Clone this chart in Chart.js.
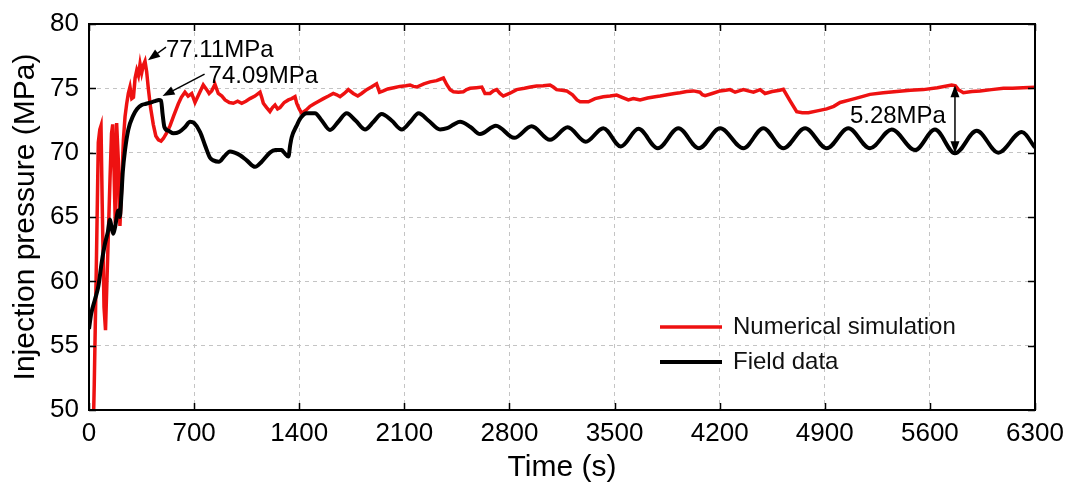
<!DOCTYPE html>
<html>
<head>
<meta charset="utf-8">
<script src="https://cdn.jsdelivr.net/npm/chart.js@4/dist/chart.umd.min.js"></script>
<style>
html,body{margin:0;padding:0;background:#fff;}
#wrap{width:1069px;height:484px;position:relative;}
</style>
</head>
<body>
<div id="wrap"><canvas id="c" width="1069" height="484"></canvas></div>
<script>
// ---- data ----
const xTicks = [0, 700, 1400, 2100, 2800, 3500, 4200, 4900, 5600, 6300];
const yTicks = [50, 55, 60, 65, 70, 75, 80];
const seriesNames = ['Numerical simulation', 'Field data'];

// Numerical simulation: [time (s), pressure (MPa)]
const simulation = [
[20,44],[35,52],[50,62],[62,70.8],[72,71.8],[80,72.1],[88,66],[100,58],[110,56.2],[122,61],[140,68],[150,71.5],[158,72.2],[167,68.5],[175,64.5],[184,72.3],[195,69.5],[206,64.3],[218,67.5],[229,71],[240,72.8],[251,73.8],[262,74.6],[273,75.1],[285,74.2],[296,74.3],[307,75.8],[318,76.4],[329,76.0],[340,76.9],[351,76.2],[362,76.8],[373,77.11],[384,76.3],[395,75.0],[410,73.5],[428,72.2],[445,71.3],[462,71.0],[480,70.9],[495,71.1],[520,71.6],[540,72.1],[565,72.9],[595,73.8],[615,74.3],[639,74.7],[660,74.4],[684,74.6],[706,73.9],[730,74.5],[761,75.26],[784,74.9],[800,74.6],[817,74.8],[839,75.3],[861,74.6],[885,74.4],[906,74.1],[935,73.9],[961,73.84],[990,74.0],[1017,73.84],[1045,74.0],[1072,74.2],[1105,74.4],[1139,74.7],[1150,74.3],[1161,73.84],[1183,73.5],[1205,73.2],[1222,73.5],[1239,73.7],[1256,73.4],[1272,73.5],[1300,73.9],[1328,74.1],[1350,74.2],[1372,74.35],[1383,73.84],[1400,73.4],[1416,73.06],[1445,73.3],[1472,73.6],[1500,73.8],[1530,74.0],[1561,74.2],[1595,74.4],[1627,74.6],[1650,74.5],[1672,74.35],[1700,74.6],[1727,74.9],[1760,74.6],[1790,74.4],[1815,74.6],[1849,74.9],[1880,75.1],[1915,75.35],[1935,74.7],[1960,74.8],[1990,74.95],[2030,75.05],[2070,75.15],[2110,75.2],[2138,75.26],[2160,75.15],[2183,75.1],[2230,75.35],[2271,75.5],[2315,75.6],[2360,75.8],[2382,75.3],[2405,74.9],[2427,74.74],[2460,74.7],[2493,74.74],[2515,74.9],[2538,75.0],[2580,75.05],[2616,75.1],[2637,74.6],[2671,74.6],[2693,74.8],[2715,74.9],[2737,74.6],[2759,74.4],[2800,74.6],[2848,74.9],[2900,75.0],[2940,75.1],[2981,75.18],[3025,75.2],[3070,75.26],[3092,75.1],[3114,74.9],[3150,74.85],[3181,74.8],[3220,74.5],[3250,74.1],[3270,73.96],[3326,73.96],[3370,74.2],[3425,74.35],[3470,74.4],[3514,74.48],[3550,74.3],[3592,74.1],[3625,74.2],[3648,74.15],[3670,74.1],[3720,74.25],[3770,74.35],[3803,74.4],[3850,74.5],[3900,74.6],[3936,74.66],[3980,74.75],[4025,74.8],[4069,74.7],[4085,74.5],[4103,74.43],[4150,74.6],[4203,74.8],[4240,74.85],[4269,74.9],[4303,74.7],[4330,74.8],[4358,74.9],[4390,74.8],[4425,74.7],[4469,74.9],[4502,74.6],[4550,74.75],[4600,74.85],[4624,74.92],[4670,74.0],[4713,73.18],[4750,73.1],[4791,73.1],[4850,73.25],[4913,73.4],[4960,73.6],[5002,73.9],[5068,74.1],[5130,74.3],[5201,74.53],[5290,74.65],[5379,74.75],[5470,74.85],[5557,74.9],[5650,75.05],[5745,75.26],[5770,75.2],[5790,74.9],[5823,74.66],[5880,74.75],[5934,74.8],[6010,74.9],[6090,75.0],[6150,75.0],[6220,75.05],[6300,75.08]
];

// Field data: [time (s), pressure (MPa)]
const field = [
[0,56.3],[15,57.5],[40,58.6],[62,59.6],[85,61.5],[107,62.96],[125,63.8],[140,64.8],[150,64.2],[162,63.7],[175,64.3],[195,65.5],[205,65.0],[215,66.5],[225,68.5],[240,70.2],[262,71.8],[295,72.9],[320,73.4],[351,73.7],[380,73.8],[410,73.9],[440,74.0],[465,74.09],[480,74.05],[490,73.0],[502,72.0],[530,71.7],[562,71.5],[600,71.6],[640,72.0],[673,72.4],[700,72.3],[740,71.6],[775,70.5],[806,69.6],[828,69.4],[865,69.3],[900,69.7],[939,70.1],[970,70.0],[1006,69.8],[1050,69.4],[1106,68.9],[1150,69.3],[1205,70.0],[1240,70.2],[1283,70.2],[1300,70.0],[1328,69.7],[1340,70.6],[1350,71.2],[1383,72.1],[1410,72.7],[1450,73.06],[1505,73.06],[1550,72.5],[1605,71.76],[1660,72.4],[1716,73.06],[1775,72.5],[1838,71.8],[1895,72.4],[1949,73.0],[2015,72.5],[2083,71.8],[2140,72.4],[2195,73.06],[2260,72.5],[2338,71.8],[2385,71.9],[2430,72.2],[2471,72.4],[2540,72.0],[2604,71.45],[2710,72.1],[2832,71.15],[2948,72.05],[3070,71.0],[3188,71.97],[3308,70.85],[3425,71.9],[3542,70.48],[3659,71.85],[3788,70.34],[3925,71.9],[4062,70.34],[4203,71.9],[4358,70.34],[4491,71.9],[4624,70.34],[4769,71.9],[4913,70.34],[5057,71.9],[5201,70.34],[5346,71.8],[5501,70.2],[5634,71.8],[5767,69.95],[5912,71.7],[6056,70.0],[6212,71.6],[6300,70.4]
];

// annotation values
const simPeak = [373, 77.11];
const fieldPeak = [470, 74.09];
const gapTime = 5767;
const gapTop = 75.23;
const gapBottom = 69.95;

// ---- plugins ----
const FONT = '"Liberation Sans", Arial, sans-serif';

function arrowHead(ctx, x1, y1, x2, y2, len, wid) {
  const ang = Math.atan2(y2 - y1, x2 - x1);
  ctx.beginPath();
  ctx.moveTo(x2, y2);
  ctx.lineTo(x2 - len * Math.cos(ang) + wid * Math.sin(ang), y2 - len * Math.sin(ang) - wid * Math.cos(ang));
  ctx.lineTo(x2 - len * Math.cos(ang) - wid * Math.sin(ang), y2 - len * Math.sin(ang) + wid * Math.cos(ang));
  ctx.closePath();
  ctx.fill();
}
function arrow(ctx, x1, y1, x2, y2) {
  const ang = Math.atan2(y2 - y1, x2 - x1);
  ctx.beginPath();
  ctx.moveTo(x1, y1);
  ctx.lineTo(x2 - 8 * Math.cos(ang), y2 - 8 * Math.sin(ang));
  ctx.stroke();
  arrowHead(ctx, x1, y1, x2, y2, 12, 4.5);
}

const framePlugin = {
  id: 'frame',
  afterDatasetsDraw(chart) {
    const {ctx, chartArea: a, scales: {x, y}} = chart;
    ctx.save();
    ctx.strokeStyle = '#000';
    ctx.lineWidth = 2;
    ctx.strokeRect(a.left, a.top, a.right - a.left, a.bottom - a.top);
    ctx.lineWidth = 1.5;
    const L = 7;
    ctx.beginPath();
    xTicks.forEach(v => {
      const px = Math.round(x.getPixelForValue(v)) + 0.5;
      ctx.moveTo(px, a.bottom); ctx.lineTo(px, a.bottom - L);
      ctx.moveTo(px, a.top); ctx.lineTo(px, a.top + L);
    });
    yTicks.forEach(v => {
      const py = Math.round(y.getPixelForValue(v)) + 0.5;
      ctx.moveTo(a.left, py); ctx.lineTo(a.left + L, py);
      ctx.moveTo(a.right, py); ctx.lineTo(a.right - L, py);
    });
    ctx.stroke();
    ctx.restore();
  }
};

const annotatePlugin = {
  id: 'annotate',
  afterDraw(chart) {
    const {ctx, scales: {x, y}} = chart;
    const X = v => x.getPixelForValue(v), Y = v => y.getPixelForValue(v);
    ctx.save();
    ctx.fillStyle = '#000';
    ctx.strokeStyle = '#000';
    ctx.lineWidth = 1.5;
    ctx.font = '24px ' + FONT;
    ctx.textBaseline = 'middle';
    ctx.textAlign = 'left';
    // 77.11 label
    const p1x = X(simPeak[0]), p1y = Y(simPeak[1]);
    ctx.fillText(simPeak[1].toFixed(2) + 'MPa', p1x + 21, p1y - 11);
    arrow(ctx, p1x + 21, p1y - 14, p1x + 3, p1y - 1);
    // 74.09 label
    const p2x = X(fieldPeak[0]), p2y = Y(fieldPeak[1]);
    ctx.fillText(fieldPeak[1].toFixed(2) + 'MPa', p2x + 49, p2y - 24);
    arrow(ctx, p2x + 45, p2y - 26, p2x + 3, p2y - 4);
    // gap double arrow
    const gx = X(gapTime), gy1 = Y(gapTop), gy2 = Y(gapBottom);
    ctx.beginPath();
    ctx.moveTo(gx, gy1 + 8); ctx.lineTo(gx, gy2 - 8);
    ctx.stroke();
    arrowHead(ctx, gx, gy2, gx, gy1, 12, 4.5);
    arrowHead(ctx, gx, gy1, gx, gy2, 12, 4.5);
    ctx.textAlign = 'right';
    ctx.fillText((gapTop - gapBottom).toFixed(2) + 'MPa', gx - 9, (gy1 + gy2) / 2 - 3);
    ctx.restore();
  }
};

const legendPlugin = {
  id: 'customLegend',
  afterDraw(chart) {
    const {ctx} = chart;
    ctx.save();
    ctx.font = '24px ' + FONT;
    ctx.textBaseline = 'middle';
    ctx.textAlign = 'left';
    chart.data.datasets.forEach((ds, i) => {
      const yy = 327 + i * 35;
      ctx.strokeStyle = ds.borderColor;
      ctx.lineWidth = ds.borderWidth;
      ctx.beginPath();
      ctx.moveTo(660, yy); ctx.lineTo(722, yy);
      ctx.stroke();
      ctx.fillStyle = '#111';
      ctx.fillText(ds.label, 733, yy);
    });
    ctx.restore();
  }
};

const toPoints = arr => arr.map(p => ({x: p[0], y: p[1]}));

new Chart(document.getElementById('c'), {
  type: 'line',
  data: {
    datasets: [
      {
        label: seriesNames[0],
        data: toPoints(simulation),
        borderColor: '#ee1111',
        borderWidth: 3.5,
        pointRadius: 0,
        tension: 0,
        order: 2
      },
      {
        label: seriesNames[1],
        data: toPoints(field),
        borderColor: '#000000',
        borderWidth: 4,
        pointRadius: 0,
        cubicInterpolationMode: 'monotone',
        order: 1
      }
    ]
  },
  options: {
    responsive: false,
    animation: false,
    devicePixelRatio: 1,
    layout: {padding: {left: 0, right: 34, top: 24, bottom: 0}},
    plugins: {legend: {display: false}, tooltip: {enabled: false}},
    scales: {
      x: {
        type: 'linear',
        min: 0, max: 6300,
        afterBuildTicks: s => { s.ticks = xTicks.map(v => ({value: v})); },
        afterFit: s => { s.height = 74; s.paddingLeft = 0; s.paddingRight = 0; },
        ticks: {color: '#000', font: {family: FONT, size: 26}, padding: 8, maxRotation: 0, autoSkip: false, callback: v => String(v)},
        grid: {color: '#c4c4c4', lineWidth: 1, drawTicks: false, tickLength: 0},
        border: {display: false, dash: [4, 4]},
        title: {display: true, text: 'Time (s)', color: '#000', font: {family: FONT, size: 30}, padding: {top: 0, bottom: -2}}
      },
      y: {
        type: 'linear',
        min: 50, max: 80,
        afterBuildTicks: s => { s.ticks = yTicks.map(v => ({value: v})); },
        afterFit: s => { s.width = 89; s.paddingTop = 0; s.paddingBottom = 0; },
        ticks: {color: '#000', font: {family: FONT, size: 26}, padding: 10, callback: v => String(v)},
        grid: {color: '#c4c4c4', lineWidth: 1, drawTicks: false, tickLength: 0},
        border: {display: false, dash: [4, 4]},
        title: {display: true, text: 'Injection pressure (MPa)', color: '#000', font: {family: FONT, size: 30}, padding: {top: 8, bottom: 0}}
      }
    }
  },
  plugins: [framePlugin, annotatePlugin, legendPlugin]
});
</script>
</body>
</html>
